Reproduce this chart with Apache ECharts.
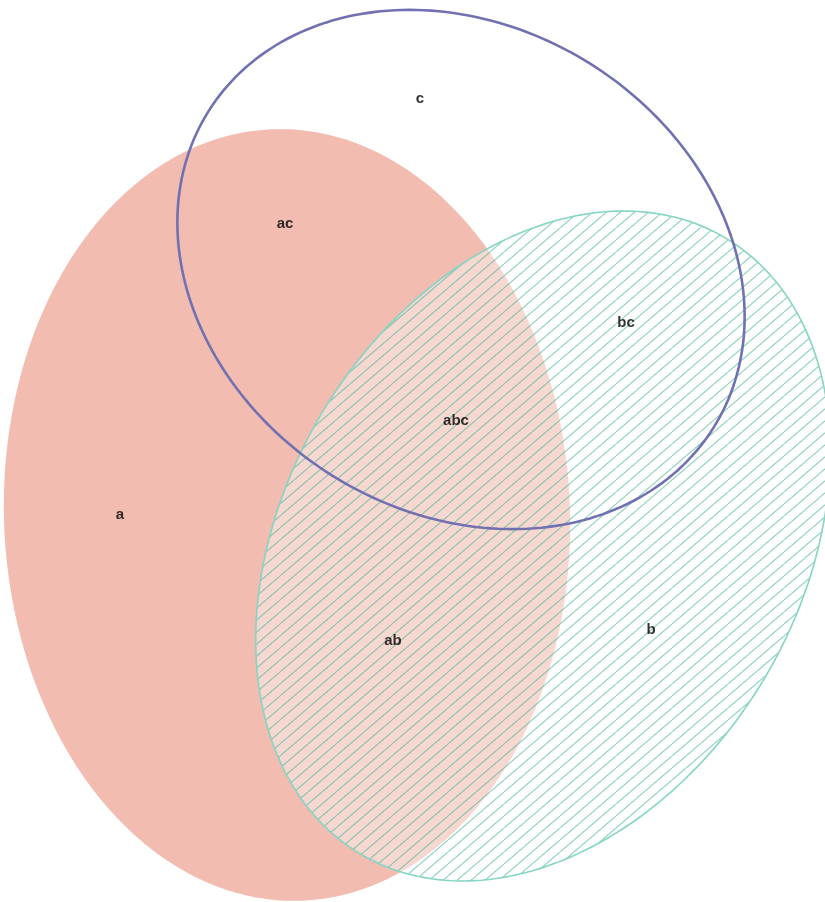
<!DOCTYPE html>
<html>
<head>
<meta charset="utf-8">
<script src="https://cdn.jsdelivr.net/npm/echarts@6/dist/echarts.min.js"></script>
<style>
html,body{margin:0;padding:0;background:#fff;}
#chart{width:825px;height:902px;}
</style>
</head>
<body>
<div id="chart"></div>
<script>
// Sets (ellipses) in chart units
const setNames = ['a', 'b', 'c'];
const centerX = [287, 543, 461];
const centerY = [515, 546, 269.5];
const semiAxisA = [283, 358, 298];
const semiAxisB = [386, 258, 243];
const rotationDeg = [-2.2, -59.4, 32];

// Region labels
const regionNames = ['c', 'ac', 'bc', 'abc', 'a', 'ab', 'b'];
const regionX = [420, 285, 626, 456, 120, 393, 651];
const regionY = [99, 224, 323, 421, 515, 641, 630];

// hatch pattern tile
function makeHatch() {
  const w = 14, h = 12;
  const c = document.createElement('canvas');
  c.width = w; c.height = h;
  const ctx = c.getContext('2d');
  ctx.strokeStyle = 'rgba(70,180,152,0.62)';
  ctx.lineWidth = 1.1;
  ctx.beginPath();
  ctx.moveTo(0, h); ctx.lineTo(w, 0);
  ctx.moveTo(-w, h); ctx.lineTo(0, 0);
  ctx.moveTo(w, h); ctx.lineTo(2 * w, 0);
  ctx.stroke();
  return c;
}
const hatch = makeHatch();

const styles = {
  a: { fill: '#f2bcb0', stroke: null, lineWidth: 0, hatch: false },
  b: { fill: 'rgba(255,255,255,0.42)', stroke: '#84d5c3', lineWidth: 1.6, hatch: true },
  c: { fill: 'none', stroke: '#7171b2', lineWidth: 2.6, hatch: false }
};

const ellipseData = setNames.map((n, i) => [i, centerX[i], centerY[i], semiAxisA[i], semiAxisB[i], rotationDeg[i]]);

function renderEllipse(params, api) {
  const i = api.value(0);
  const cx = api.value(1), cy = api.value(2), A = api.value(3), B = api.value(4);
  const th = api.value(5) * Math.PI / 180;
  const pts = [];
  const N = 240;
  for (let k = 0; k < N; k++) {
    const t = 2 * Math.PI * k / N;
    const x = cx + A * Math.cos(t) * Math.cos(th) - B * Math.sin(t) * Math.sin(th);
    const y = cy + A * Math.cos(t) * Math.sin(th) + B * Math.sin(t) * Math.cos(th);
    pts.push(api.coord([x, y]));
  }
  const st = styles[setNames[i]];
  const children = [];
  children.push({
    type: 'polygon', shape: { points: pts },
    style: { fill: st.fill, stroke: null }
  });
  if (st.hatch) {
    children.push({
      type: 'polygon', shape: { points: pts },
      style: { fill: { image: hatch, repeat: 'repeat' }, stroke: null }
    });
  }
  if (st.stroke) {
    children.push({
      type: 'polygon', shape: { points: pts },
      style: { fill: 'none', stroke: st.stroke, lineWidth: st.lineWidth }
    });
  }
  return { type: 'group', children: children };
}

const chart = echarts.init(document.getElementById('chart'), null, { renderer: 'canvas' });
chart.setOption({
  animation: false,
  backgroundColor: '#ffffff',
  grid: { left: 0, right: 0, top: 0, bottom: 0 },
  xAxis: { type: 'value', min: 0, max: 825, show: false },
  yAxis: { type: 'value', min: 0, max: 902, inverse: true, show: false },
  series: [
    {
      type: 'custom',
      renderItem: renderEllipse,
      data: ellipseData,
      clip: false,
      silent: true
    },
    {
      type: 'scatter',
      symbolSize: 0,
      data: regionNames.map((n, i) => ({ name: n, value: [regionX[i], regionY[i]] })),
      label: {
        show: true,
        position: 'inside',
        formatter: '{b}',
        color: '#000000',
        fontFamily: 'Liberation Sans, Arial, sans-serif',
        fontWeight: 'bold',
        fontSize: 15
      },
      silent: true,
      z: 10
    }
  ]
});
</script>
</body>
</html>
